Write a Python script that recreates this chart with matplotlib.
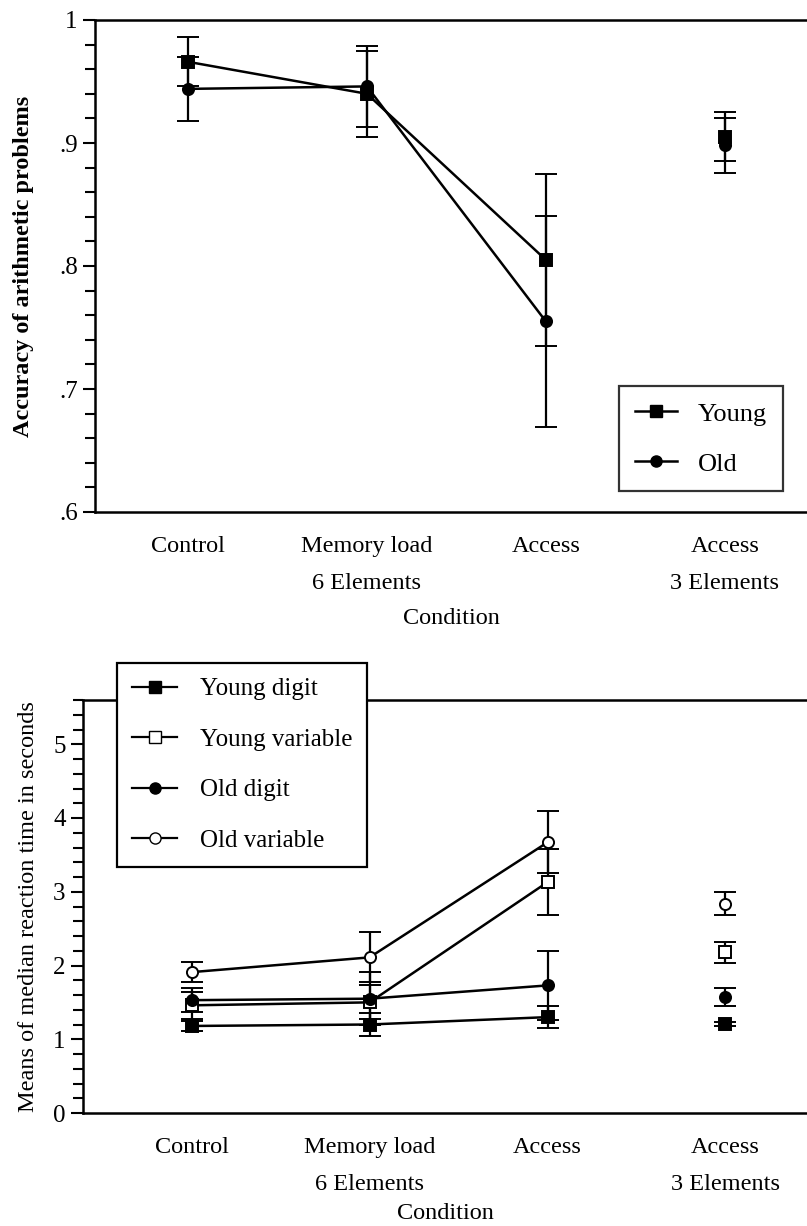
import numpy as np
import matplotlib.pyplot as plt
from matplotlib.lines import Line2D
from matplotlib.ticker import MultipleLocator, FixedLocator

plt.rcParams['font.family'] = ['Liberation Serif', 'DejaVu Serif']

conditions = ["Control", "Memory load\n6 Elements", "Access", "Access\n3 Elements"]

# accuracy (upper panel)
acc_young = [0.966, 0.940, 0.805, 0.905]
acc_young_err = [0.020, 0.035, 0.070, 0.020]
acc_old = [0.944, 0.946, 0.755, 0.898]
acc_old_err = [0.026, 0.033, 0.086, 0.022]

# median reaction time (lower panel)
rt_young_digit = [1.18, 1.20, 1.30, 1.21]
rt_young_digit_err = [0.07, 0.15, 0.15, 0.03]
rt_young_var = [1.46, 1.50, 3.13, 2.18]
rt_young_var_err = [0.18, 0.23, 0.45, 0.14]
rt_old_digit = [1.53, 1.55, 1.73, 1.57]
rt_old_digit_err = [0.16, 0.36, 0.47, 0.12]
rt_old_var = [1.91, 2.11, 3.67, 2.84]
rt_old_var_err = [0.14, 0.34, 0.42, 0.15]

x = np.arange(1, len(conditions) + 1)

W, H = 807, 1226
fig = plt.figure(figsize=(W / 100, H / 100), dpi=100)


def draw_series(ax, y, err, marker, filled):
    face = 'black' if filled else 'white'
    kw = dict(color='black', ecolor='black', elinewidth=1.6, capsize=8, capthick=1.8,
              marker=marker, markersize=8, markerfacecolor=face, markeredgecolor='black',
              markeredgewidth=1.4)
    # first three conditions are joined, the last one stands alone
    ax.errorbar(x[:3], y[:3], yerr=err[:3], linestyle='-', linewidth=1.8, **kw)
    ax.errorbar(x[3:], y[3:], yerr=err[3:], linestyle='none', **kw)


def style_axes(ax, xlabelpad):
    ax.spines['right'].set_visible(False)
    for s in ['left', 'top', 'bottom']:
        ax.spines[s].set_linewidth(1.8)
    ax.set_xticks(x)
    ax.set_xticklabels(conditions, fontsize=17.5, linespacing=2.0)
    ax.tick_params(axis='x', length=0, pad=17)
    ax.tick_params(axis='y', which='both', direction='out', width=1.5, labelsize=18)
    ax.tick_params(axis='y', which='major', length=9)
    ax.tick_params(axis='y', which='minor', length=7)
    ax.set_xlabel("Condition", fontsize=17.5, labelpad=xlabelpad)


# ---- upper panel
ax1 = fig.add_axes([95 / W, 1 - 512 / H, 712 / W, 492 / H])
draw_series(ax1, acc_young, acc_young_err, 's', True)
draw_series(ax1, acc_old, acc_old_err, 'o', True)
ax1.set_xlim(0.48, 4.46)
ax1.set_ylim(0.6, 1.0)
ax1.yaxis.set_major_locator(FixedLocator([0.6, 0.7, 0.8, 0.9, 1.0]))
ax1.set_yticklabels([".6", ".7", ".8", ".9", "1"])
ax1.yaxis.set_minor_locator(MultipleLocator(0.02))
style_axes(ax1, 10)
ax1.set_ylabel("Accuracy of arithmetic problems", fontsize=17.5, fontweight='bold', labelpad=18)

h1 = [Line2D([], [], color='black', lw=1.8, marker='s', markersize=8, markerfacecolor='black'),
      Line2D([], [], color='black', lw=1.8, marker='o', markersize=8, markerfacecolor='black')]
leg1 = ax1.legend(h1, ["Young", "Old"], loc='lower right', bbox_to_anchor=(0.985, 0.015),
                  fontsize=19, frameon=True, fancybox=False, edgecolor='black',
                  handlelength=1.6, labelspacing=1.0, borderpad=0.6, handletextpad=0.8)
leg1.get_frame().set_linewidth(1.6)

# ---- lower panel
ax2 = fig.add_axes([83 / W, 1 - 1113 / H, 724 / W, 413 / H])
draw_series(ax2, rt_young_digit, rt_young_digit_err, 's', True)
draw_series(ax2, rt_young_var, rt_young_var_err, 's', False)
draw_series(ax2, rt_old_digit, rt_old_digit_err, 'o', True)
draw_series(ax2, rt_old_var, rt_old_var_err, 'o', False)
ax2.set_xlim(0.39, 4.458)
ax2.set_ylim(0, 5.6)
ax2.yaxis.set_major_locator(FixedLocator([0, 1, 2, 3, 4, 5]))
ax2.yaxis.set_minor_locator(MultipleLocator(0.2))
style_axes(ax2, 6)
ax2.set_ylabel("Means of median reaction time in seconds", fontsize=17.5, labelpad=10)

h2 = [Line2D([], [], color='black', lw=1.6, marker='s', markersize=8, markerfacecolor='black'),
      Line2D([], [], color='black', lw=1.6, marker='s', markersize=8, markerfacecolor='white'),
      Line2D([], [], color='black', lw=1.6, marker='o', markersize=8, markerfacecolor='black'),
      Line2D([], [], color='black', lw=1.6, marker='o', markersize=8, markerfacecolor='white')]
leg2 = ax2.legend(h2, ["Young digit", "Young variable", "Old digit", "Old variable"],
                  loc='upper left', bbox_to_anchor=(0.03, 1.12), fontsize=18,
                  frameon=True, fancybox=False, edgecolor='black', framealpha=1,
                  handlelength=1.8, labelspacing=1.12, borderpad=0.6, handletextpad=0.9)
leg2.get_frame().set_linewidth(1.6)
leg2.set_zorder(10)

fig.savefig("out.png", dpi=100)
